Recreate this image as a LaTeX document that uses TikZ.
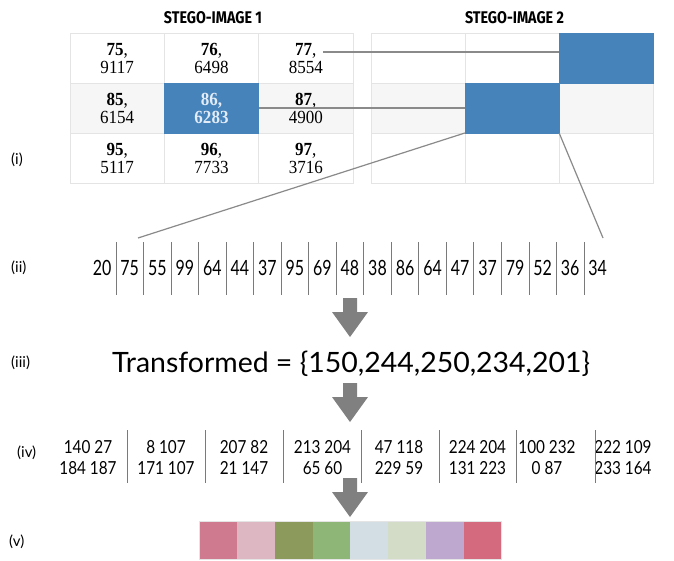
\documentclass[tikz,border=0pt]{standalone}
\usepackage{fontspec}
\usepackage{graphicx}
\setmainfont{Liberation Serif}
\newfontfamily\lato{Lato}
\newfontfamily\headfont{Fira Sans}

\definecolor{cellblue}{HTML}{4683BA}
\definecolor{celltxt}{HTML}{E3ECF7}
\definecolor{rowgray}{HTML}{F6F6F6}
\definecolor{gridline}{HTML}{E4E4E4}
\definecolor{linkgray}{HTML}{8A8A8A}
\definecolor{sepgray}{HTML}{7A7A7A}
\definecolor{arrowgray}{HTML}{808080}
\definecolor{swA}{HTML}{D07A90}
\definecolor{swB}{HTML}{DDB8C3}
\definecolor{swC}{HTML}{8C9A5C}
\definecolor{swD}{HTML}{8DB677}
\definecolor{swE}{HTML}{D3DEE4}
\definecolor{swF}{HTML}{D3DCC6}
\definecolor{swG}{HTML}{BFA8D0}
\definecolor{swH}{HTML}{D46A7E}

% two-line cell label: bold index, then value
\newcommand\idxval[2]{\scalebox{0.92}[1]{\begin{tabular}[t]{@{}c@{}}\textbf{#1},\\#2\end{tabular}}}
\newcommand\idxvalbold[2]{\scalebox{0.92}[1]{\begin{tabular}[t]{@{}c@{}}\textbf{#1,}\\\textbf{#2}\end{tabular}}}
% two-line pair of numbers
\newcommand\numpair[2]{\scalebox{0.85}[1]{\begin{tabular}[t]{@{}c@{}}#1\\#2\end{tabular}}}
% grey block arrow pointing down, top centre at (#1,#2)
\newcommand\blockarrow[2]{%
  \fill[arrowgray] (#1-7,#2) -- (#1+7,#2) -- (#1+7,#2+14) -- (#1+18,#2+14)
    -- (#1,#2+39) -- (#1-18,#2+14) -- (#1-7,#2+14) -- cycle;}

\tikzset{
  cell/.style={draw=gridline, line width=0.6pt, fill=white, minimum width=94.33pt,
    minimum height=50pt, inner sep=0pt, outer sep=0pt},
  midcell/.style={cell, fill=rowgray},
  bluecell/.style={cell, fill=cellblue, draw=cellblue},
  celltext/.style={anchor=base, inner sep=0pt, font=\fontsize{18.5}{18.3}\selectfont},
  heading/.style={inner sep=0pt},
  link/.style={draw=linkgray, line width=1.2pt},
  seqsep/.style={draw=sepgray, line width=0.9pt},
  seqnum/.style={anchor=base, inner sep=0pt, font=\lato\fontsize{21}{22}\selectfont},
  pairtext/.style={anchor=base, inner sep=0pt, font=\lato\fontsize{18}{21}\selectfont},
  lab/.style={anchor=west, inner sep=0pt, font=\lato\fontsize{15}{16}\selectfont},
  swatch/.style={minimum width=37.75pt, minimum height=37.5pt, inner sep=0pt, outer sep=0pt}
}

\begin{document}
\begin{tikzpicture}[x=1pt,y=-1pt]
\useasboundingbox (0,0) rectangle (674,560);
\fill[white] (0,0) rectangle (674,560);

% headings
\node[heading] (h1) at (213,18) {\resizebox{98pt}{12pt}{\headfont\bfseries STEGO-IMAGE 1}};
\node[heading] (h2) at (514.5,18) {\resizebox{99pt}{12pt}{\headfont\bfseries STEGO-IMAGE 2}};

% first image grid
\foreach \c/\x in {1/117.2,2/211.5,3/305.8}{
  \node[cell] (a1\c) at (\x,58) {};
  \node[midcell] (a2\c) at (\x,108) {};
  \node[cell] (a3\c) at (\x,158) {};
}
\node[bluecell] (a22) at (211.5,108) {};

% second image grid
\foreach \c/\x in {1/418,2/512,3/606}{
  \node[cell] (b1\c) at (\x,58) {};
  \node[midcell] (b2\c) at (\x,108) {};
  \node[cell] (b3\c) at (\x,158) {};
}
\node[bluecell] (b13) at (606,58) {};
\node[bluecell] (b22) at (512,108) {};

% cell contents
\node[celltext] (n75) at (117.2,55) {\idxval{75}{9117}};
\node[celltext] (n76) at (211.5,55) {\idxval{76}{6498}};
\node[celltext] (n77) at (305.8,55) {\idxval{77}{8554}};
\node[celltext] (n85) at (117.2,105) {\idxval{85}{6154}};
\node[celltext, text=celltxt] (n86) at (211.5,105) {\idxvalbold{86}{6283}};
\node[celltext] (n87) at (305.8,105) {\idxval{87}{4900}};
\node[celltext] (n95) at (117.2,155) {\idxval{95}{5117}};
\node[celltext] (n96) at (211.5,155) {\idxval{96}{7733}};
\node[celltext] (n97) at (305.8,155) {\idxval{97}{3716}};

% links between the two images
\coordinate (p77) at (323,52);
\draw[link] (p77) -- (p77 -| b13.west);
\draw[link] (a22.east) -- (b22.west);
\coordinate (seqL) at (138,238);
\coordinate (seqR) at (603,238);
\draw[link] (b22.south west) -- (seqL);
\draw[link] (b22.south east) -- (seqR);

% row labels
\node[lab] (l1) at (11,160) {(i)};
\node[lab] (l2) at (11,268) {(ii)};
\node[lab] (l3) at (11,363) {(iii)};
\node[lab] (l4) at (17,453) {(iv)};
\node[lab] (l5) at (9,542) {(v)};

% pixel sequence
\foreach \v [count=\i from 0] in {20,75,55,99,64,44,37,95,69,48,38,86,64,47,37,79,52,36,34}{
  \node[seqnum] (s\i) at ({102.2+27.53*\i},275.5) {\scalebox{0.76}[1]{\v}};
}
\foreach \k in {0,...,17}{
  \draw[seqsep] ({116+27.53*\k},242) -- ({116+27.53*\k},295);
}

\blockarrow{350}{298}

% transformed values
\node[anchor=base west, inner sep=0pt, font=\lato\fontsize{28}{30}\selectfont] (tf) at (112,372)
  {\resizebox{478pt}{\height}{Transformed = \{150,244,250,234,201\}}};

\blockarrow{350}{383}

% coefficient pairs
\foreach \x/\u/\w [count=\j] in {88/140 27/184 187, 166/8 107/171 107, 244/207 82/21 147,
    322.5/213 204/65 60, 399/47 118/229 59, 477.5/224 204/131 223, 547/100 232/0 87,
    623/222 109/233 164}{
  \node[pairtext] (q\j) at (\x,453.3) {\numpair{\u}{\w}};
}
\foreach \x in {127.7,205.5,283.3,361,439,516.5,595}{
  \draw[seqsep] (\x,430) -- (\x,483);
}

\blockarrow{350}{478}

% colour swatches
\foreach \cc [count=\i from 0] in {swA,swB,swC,swD,swE,swF,swG,swH}{
  \node[swatch, fill=\cc] (v\i) at ({199.3+37.75*\i+18.875},540.5) {};
}
\draw[gridline, line width=1pt] (v0.north west) rectangle (v7.south east);
\end{tikzpicture}
\end{document}
